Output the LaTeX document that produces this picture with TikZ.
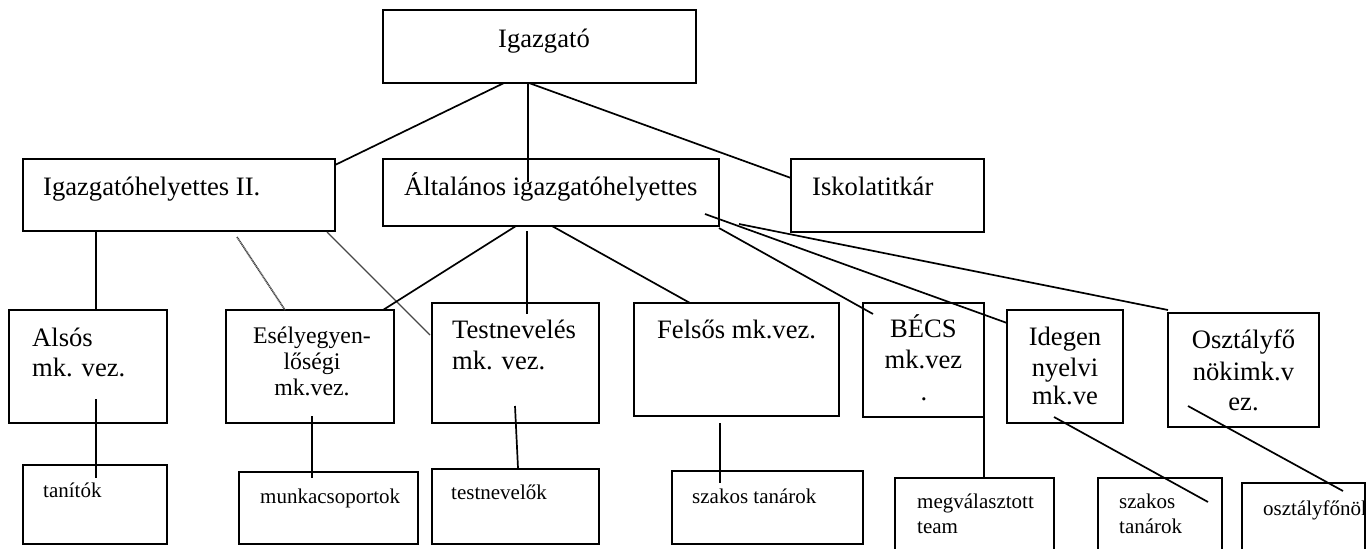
\documentclass[tikz,border=0pt]{standalone}
\usepackage{fontspec}
\setmainfont{Liberation Serif}
\begin{document}
\begin{tikzpicture}[x=1pt,y=-1pt,
  box/.style={draw, line width=1.7pt, inner sep=0pt},
  conn/.style={line width=1.7pt},
  greyhatch/.style={line width=1.7pt, draw=gray!55!black, dash pattern=on 1.1pt off 0.6pt},
  greythin/.style={line width=1.2pt, draw=gray!55!black},
  big/.style={inner sep=0pt, font=\fontsize{26.6}{30}\selectfont},
  mid/.style={inner sep=0pt, font=\fontsize{23.8}{27}\selectfont},
  sml/.style={inner sep=0pt, font=\fontsize{21}{25}\selectfont}]
\useasboundingbox (0,0) rectangle (1369,549);
\clip (0,0) rectangle (1369,549);

% boxes
\node[box, minimum width=313pt, minimum height=73pt] (igaz) at (539.5,46.5) {};
\node[box, minimum width=312pt, minimum height=72pt] (ih2) at (179,195) {};
\node[box, minimum width=336pt, minimum height=67pt] (alt) at (551,192.5) {};
\node[box, minimum width=193pt, minimum height=73pt] (isk) at (887.5,195.5) {};
\node[box, minimum width=158pt, minimum height=113pt] (also) at (88,366.5) {};
\node[box, minimum width=168pt, minimum height=113pt] (esely) at (310,366.5) {};
\node[box, minimum width=167pt, minimum height=120pt] (test) at (515.5,363) {};
\node[box, minimum width=205pt, minimum height=113pt] (fels) at (736.5,359.5) {};
\node[box, minimum width=121pt, minimum height=114pt] (becs) at (923.5,360) {};
\node[box, minimum width=116pt, minimum height=113pt] (ideg) at (1065,366.5) {};
\node[box, minimum width=151pt, minimum height=114pt] (oszt) at (1243.5,370) {};
\node[box, minimum width=144pt, minimum height=79pt] (tanit) at (95,504.5) {};
\node[box, minimum width=179pt, minimum height=72pt] (munka) at (328.5,508) {};
\node[box, minimum width=167pt, minimum height=75pt] (testn) at (515.5,506.5) {};
\node[box, minimum width=191pt, minimum height=73pt] (szak1) at (767.5,507.5) {};
\node[box, minimum width=159pt, minimum height=92pt] (megv) at (974.5,524) {};
\node[box, minimum width=124pt, minimum height=92pt] (szak2) at (1160,524) {};
\node[box, minimum width=123pt, minimum height=87pt] (osztf) at (1303.5,526.5) {};

% texts
\node[big, anchor=base] (igazT) at (544,47) {Igazgató};
\node[big, anchor=base west] (ih2T) at (43,195) {Igazgatóhelyettes II.};
\node[big, anchor=base west] (altT) at (404,195) {Általános igazgatóhelyettes};
\node[big, anchor=base west] (iskT) at (812,195) {Iskolatitkár};
\node[big, anchor=base west] (alsoA) at (32,346) {Alsós};
\node[big, anchor=base west] (alsoB) at (32,376) {mk. vez.};
\node[mid, anchor=base] (eselyA) at (312,343) {Esélyegyen-};
\node[mid, anchor=base] (eselyB) at (312,369) {lőségi};
\node[mid, anchor=base] (eselyC) at (312,395) {mk.vez.};
\node[big, anchor=base west] (testA) at (452,338) {Testnevelés};
\node[big, anchor=base west] (testB) at (452,369) {mk. vez.};
\node[big, anchor=base west] (felsT) at (657,338) {Felsős mk.vez.};
\node[big, anchor=base] (becsA) at (923.5,337) {BÉCS};
\node[big, anchor=base] (becsB) at (923.5,368) {mk.vez};
\node[big, anchor=base] (becsC) at (924,400) {.};
\node[big, anchor=base] (idegA) at (1065,345) {Idegen};
\node[big, anchor=base] (idegB) at (1065,376) {nyelvi};
\node[big, anchor=base] (idegC) at (1065,404) {mk.ve};
\node[big, anchor=base] (osztA) at (1243.5,348) {Osztályfő};
\node[big, anchor=base] (osztB) at (1243.5,380) {nökimk.v};
\node[big, anchor=base] (osztC) at (1243.5,410) {ez.};
\node[sml, anchor=base west] (tanitT) at (43,497) {tanítók};
\node[sml, anchor=base west] (munkaT) at (260,503) {munkacsoportok};
\node[sml, anchor=base west] (testnT) at (451,499) {testnevelők};
\node[sml, anchor=base west] (szak1T) at (692,503) {szakos tanárok};
\node[sml, anchor=base west] (megvA) at (917,508) {megválasztott};
\node[sml, anchor=base west] (megvB) at (917,533) {team};
\node[sml, anchor=base west] (szak2A) at (1119,508) {szakos};
\node[sml, anchor=base west] (szak2B) at (1119,533) {tanárok};
\begin{scope}
\clip (1242,483) rectangle (1365,549);
\node[sml, anchor=base west] (osztfT) at (1263,515) {osztályfőnök};
\end{scope}

% connector end points
\coordinate (igazL) at (504,83);
\coordinate (igazM) at (528,83);
\coordinate (igazR) at (529,83);
\coordinate (ih2In) at (335,165);
\coordinate (altIn) at (528,182);
\coordinate (iskIn) at (791,178);
\coordinate (ih2B) at (96,231);
\coordinate (alsoTop) at (96,310);
\coordinate (ih2G1) at (237,237);
\coordinate (eselyG) at (285,310);
\coordinate (ih2G2) at (327,232);
\coordinate (testG) at (430,335);
\coordinate (altE) at (516,226);
\coordinate (eselyT) at (383,310);
\coordinate (altV) at (527,231);
\coordinate (testIn) at (527,314);
\coordinate (altF) at (552,226);
\coordinate (felsT0) at (690,303);
\coordinate (altB) at (719,228);
\coordinate (becsIn) at (873,314);
\coordinate (altI) at (705,214);
\coordinate (idegIn) at (1007,323);
\coordinate (altO) at (739,224);
\coordinate (osztIn) at (1168,310);
\coordinate (alsoIn) at (96,399);
\coordinate (tanitIn) at (96,478);
\coordinate (eselyIn) at (312,416);
\coordinate (munkaIn) at (312,478);
\coordinate (testOut) at (515,406);
\coordinate (testnIn) at (518,468);
\coordinate (felsOut) at (720,423);
\coordinate (szak1In) at (720,483);
\coordinate (becsOut) at (984,417);
\coordinate (megvIn) at (984,478);
\coordinate (idegOut) at (1054,417);
\coordinate (szak2In) at (1208,502);
\coordinate (osztOut) at (1188,406);
\coordinate (osztfIn) at (1343,491);

% connectors
\draw[conn] (igazL) -- (ih2In);
\draw[conn] (igazM) -- (altIn);
\draw[conn] (igazR) -- (iskIn);
\draw[conn] (ih2B) -- (alsoTop);
\draw[greyhatch] (ih2G1) -- (eselyG);
\draw[greythin] (ih2G2) -- (testG);
\draw[conn] (altE) -- (eselyT);
\draw[conn] (altV) -- (testIn);
\draw[conn] (altF) -- (felsT0);
\draw[conn] (altB) -- (becsIn);
\draw[conn] (altI) -- (idegIn);
\draw[conn] (altO) -- (osztIn);
\draw[conn] (alsoIn) -- (tanitIn);
\draw[conn] (eselyIn) -- (munkaIn);
\draw[conn] (testOut) -- (testnIn);
\draw[conn] (felsOut) -- (szak1In);
\draw[conn] (becsOut) -- (megvIn);
\draw[conn] (idegOut) -- (szak2In);
\draw[conn] (osztOut) -- (osztfIn);
\end{tikzpicture}
\end{document}
